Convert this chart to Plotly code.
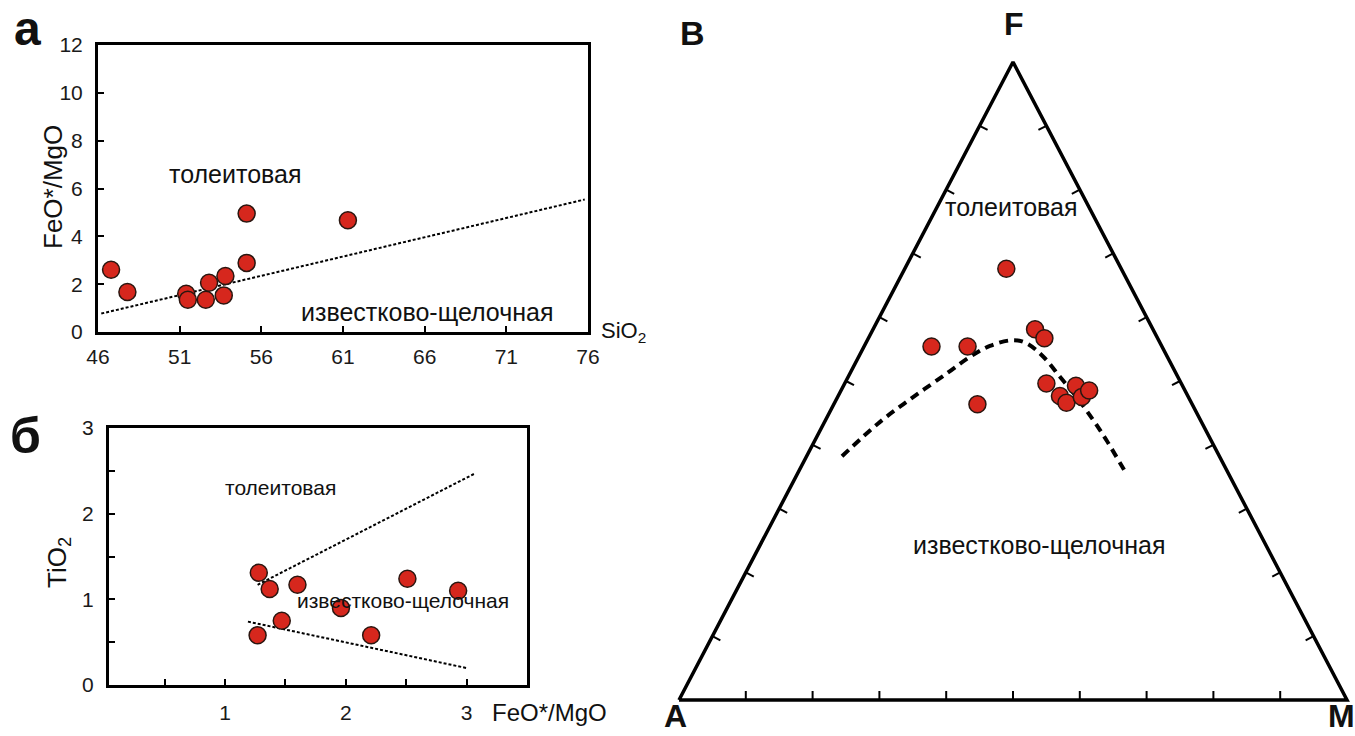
import plotly.graph_objects as go

W, H = 1355, 736

# ---------------- Panel а : FeO*/MgO vs SiO2 ----------------
a_sio2 = [46.8, 47.8, 51.4, 51.5, 52.6, 52.8, 53.7, 53.8, 55.1, 55.1, 61.3]
a_feo_mgo = [2.6, 1.67, 1.6, 1.35, 1.35, 2.06, 1.53, 2.34, 2.89, 4.95, 4.67]
a_line_x = [46.2, 75.8]
a_line_y = [0.77, 5.54]
a_xticks = [46, 51, 56, 61, 66, 71, 76]
a_yticks = [0, 2, 4, 6, 8, 10, 12]

# ---------------- Panel б : TiO2 vs FeO*/MgO ----------------
b_feo_mgo = [1.28, 1.37, 1.60, 2.51, 2.93, 1.96, 1.47, 1.27, 2.21]
b_tio2 = [1.31, 1.12, 1.17, 1.24, 1.10, 0.90, 0.75, 0.58, 0.58]
b_upper_x = [1.27, 3.07]
b_upper_y = [1.17, 2.47]
b_lower_x = [1.19, 3.01]
b_lower_y = [0.74, 0.195]
b_xticks = [1, 2, 3]
b_xminor = [0.5, 1.5, 2.5]
b_yticks = [0, 1, 2, 3]
b_yminor = [0.5, 1.5, 2.5]

# ---------------- Panel в : AFM ternary (percent) ----------------
t_F = [67.6, 55.4, 55.4, 58.1, 56.7, 46.35, 49.6, 47.65, 46.6, 49.25, 47.5, 48.5]
t_M = [15.2, 10.1, 15.5, 24.25, 26.35, 21.5, 30.2, 33.2, 34.7, 34.8, 36.55, 37.15]
curve_F = [38.2, 43.6, 47.5, 51.2, 53.8, 55.5, 56.4, 55.9, 53.8, 50.7, 47.5, 43.9, 40.75, 35.4]
curve_M = [5.3, 8.3, 11.35, 14.5, 16.66, 18.8, 21.8, 24.1, 27.64, 31.65, 35.75, 40.05, 43.6, 49.3]
tern_ticks = [10, 20, 30, 40, 50, 60, 70, 80, 90]

RED = "#d6271d"
EDGE = "#2a1610"
FONT = "Liberation Sans, Arial"


def px(x):
    return x / W


def py(y):
    return 1 - y / H


fig = go.Figure()

# panel а
fig.add_trace(go.Scatter(x=a_line_x, y=a_line_y, mode="lines",
                         line=dict(color="black", width=2, dash="3px,2px"),
                         xaxis="x", yaxis="y", showlegend=False))
fig.add_trace(go.Scatter(x=a_sio2, y=a_feo_mgo, mode="markers",
                         marker=dict(size=17, color=RED, line=dict(color=EDGE, width=1.5)),
                         xaxis="x", yaxis="y", showlegend=False, cliponaxis=False))

# panel б
for lx, ly in [(b_upper_x, b_upper_y), (b_lower_x, b_lower_y)]:
    fig.add_trace(go.Scatter(x=lx, y=ly, mode="lines",
                             line=dict(color="black", width=2, dash="3px,2px"),
                             xaxis="x2", yaxis="y2", showlegend=False))
fig.add_trace(go.Scatter(x=b_feo_mgo, y=b_tio2, mode="markers",
                         marker=dict(size=17, color=RED, line=dict(color=EDGE, width=1.5)),
                         xaxis="x2", yaxis="y2", showlegend=False, cliponaxis=False))

# panel в : ternary drawn on a cartesian frame: x = M + F/2, y = F
TX_PX, TY_PX = 668.0, 638.0  # pixel length of one unit along x and y
tri_x = [0, 1, 0.5, 0]
tri_y = [0, 0, 1, 0]
fig.add_trace(go.Scatter(x=tri_x, y=tri_y, mode="lines",
                         line=dict(color="black", width=3.5), xaxis="x3", yaxis="y3",
                         showlegend=False))
L = 9.0
ux, uy = 0.886, 0.464
tkx, tky = [], []
for t in tern_ticks:
    f = t / 100.0
    tkx += [f, f, None]
    tky += [0, L / TY_PX, None]
    x0, y0 = f * 0.5, f
    tkx += [x0, x0 + ux * L / TX_PX, None]
    tky += [y0, y0 - uy * L / TY_PX, None]
    x0, y0 = 1 - f * 0.5, f
    tkx += [x0, x0 - ux * L / TX_PX, None]
    tky += [y0, y0 - uy * L / TY_PX, None]
fig.add_trace(go.Scatter(x=tkx, y=tky, mode="lines", line=dict(color="black", width=2),
                         xaxis="x3", yaxis="y3", showlegend=False))

cx = [(m + f / 2) / 100 for f, m in zip(curve_F, curve_M)]
cy = [f / 100 for f in curve_F]
fig.add_trace(go.Scatter(x=cx, y=cy, mode="lines",
                         line=dict(color="black", width=4, dash="9px,6px", shape="spline"),
                         xaxis="x3", yaxis="y3", showlegend=False))
tx = [(m + f / 2) / 100 for f, m in zip(t_F, t_M)]
ty = [f / 100 for f in t_F]
fig.add_trace(go.Scatter(x=tx, y=ty, mode="markers",
                         marker=dict(size=17, color=RED, line=dict(color=EDGE, width=1.5)),
                         xaxis="x3", yaxis="y3", showlegend=False, cliponaxis=False))

axis_common = dict(showgrid=False, zeroline=False, showline=True, linecolor="black",
                   linewidth=3, mirror=True, ticks="inside", ticklen=6, tickwidth=1.5,
                   automargin=False,
                   tickcolor="black", tickfont=dict(family=FONT, size=21, color="#1a1a1a"))
minor_style = dict(ticks="inside", ticklen=6, tickwidth=1.5, tickcolor="black", showgrid=False)

fig.update_layout(
    width=W, height=H, autosize=False,
    margin=dict(l=0, r=0, t=0, b=0, pad=0, autoexpand=False),
    paper_bgcolor="white", plot_bgcolor="white", showlegend=False,
    xaxis=dict(domain=[px(98), px(588)], range=[46, 76], tickvals=a_xticks,
               anchor="y", ticklabelstandoff=4, **axis_common),
    yaxis=dict(domain=[py(332), py(45)], range=[0, 12], tickvals=a_yticks,
               anchor="x", ticklabelstandoff=8, **axis_common),
    xaxis2=dict(domain=[px(109), px(527)], range=[0.04, 3.5], tickvals=b_xticks,
                minor=dict(tickvals=b_xminor, **minor_style),
                anchor="y2", ticklabelstandoff=7, **axis_common),
    yaxis2=dict(domain=[py(685), py(428)], range=[0, 3], tickvals=b_yticks,
                minor=dict(tickvals=b_yminor, **minor_style),
                anchor="x2", ticklabelstandoff=8, **axis_common),
    xaxis3=dict(domain=[px(679 - 6.68), px(1347 + 6.68)], range=[-0.01, 1.01],
                visible=False, anchor="y3", automargin=False),
    yaxis3=dict(domain=[py(700 + 12.76), py(62 - 12.76)], range=[-0.02, 1.02],
                visible=False, anchor="x3", automargin=False),
)

ann = []


def note(text, x, y, size, bold=False, xref="paper", yref="paper",
         xanchor="center", yanchor="middle", angle=0):
    if bold:
        text = "<b>" + text + "</b>"
    ann.append(dict(text=text, x=x, y=y, xref=xref, yref=yref, showarrow=False,
                    xanchor=xanchor, yanchor=yanchor, textangle=angle,
                    font=dict(family=FONT, size=size, color="#111111")))


note("а", px(27), 1.0, 48, bold=True, yanchor="top")
note("б", px(25), py(436), 50, bold=True)
note("В", px(692), py(33), 34, bold=True)
note("F", px(1014), py(24), 32, bold=True)
note("A", px(675), 0.0, 32, bold=True, yanchor="bottom")
note("M", px(1341), 0.0, 32, bold=True, yanchor="bottom")

note("FeO*/MgO", px(53), py(187), 26, angle=-90)
note("SiO<sub>2</sub>", px(599), py(332), 22, xanchor="left")
note("TiO<sub>2</sub>", px(58), py(563), 26, angle=-90)
note("FeO*/MgO", px(490), py(712), 24, xanchor="left")

note("толеитовая", 54.4, 6.6, 25, xref="x", yref="y")
note("известково-щелочная", 66.2, 0.84, 25, xref="x", yref="y")
note("толеитовая", 1.456, 2.31, 21, xref="x2", yref="y2")
note("известково-щелочная", 2.47, 0.99, 21, xref="x2", yref="y2")
note("толеитовая", 0.497, 0.773, 25, xref="x3", yref="y3")
note("известково-щелочная", 0.540, 0.243, 25, xref="x3", yref="y3")

fig.update_layout(annotations=ann)

fig.write_html("out.html")
